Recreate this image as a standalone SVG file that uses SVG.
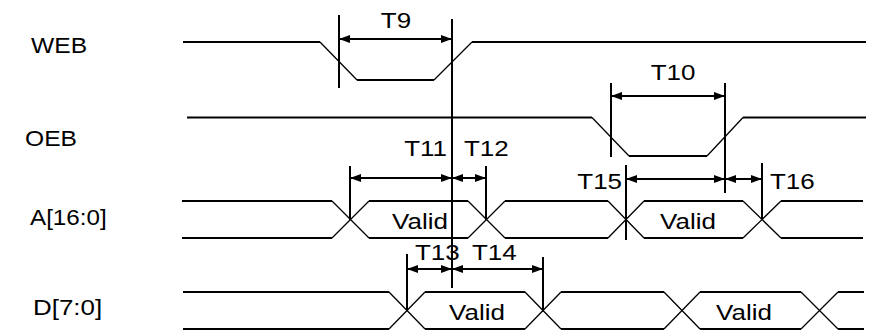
<svg xmlns="http://www.w3.org/2000/svg" width="881" height="332" viewBox="0 0 881 332">
<defs>
<marker id="ah" markerWidth="11" markerHeight="8" refX="11" refY="4" orient="auto-start-reverse" markerUnits="userSpaceOnUse">
<path d="M0,0 L11,4 L0,8 z" fill="#000"/>
</marker>
<style>
.sig{fill:none;stroke:#000;stroke-width:2;stroke-linejoin:miter}
.edge{fill:none;stroke:#000;stroke-width:1.3}
.mk{stroke:#000;stroke-width:2}
.arr{stroke:#000;stroke-width:2;marker-start:url(#ah);marker-end:url(#ah)}
text{font-family:"Liberation Sans",Arial,sans-serif;font-size:22px;fill:#000}
.m{text-anchor:middle}
.e{text-anchor:end}
</style>
</defs>
<rect width="881" height="332" fill="#fff"/>

<g id="web">
<text transform="translate(31,53) scale(1.12,1)">WEB</text>
<path class="sig" d="M183,42 H320 M357,80 H434 M472,42 H866"/>
<path class="edge" d="M320,42 L357,80 M434,80 L472,42"/>
</g>

<g id="oeb">
<text transform="translate(25,146) scale(1.12,1)">OEB</text>
<path class="sig" d="M187,117.5 H592 M629,156 H707 M743,117.5 H866"/>
<path class="edge" d="M592,117.5 L629,156 M707,156 L743,117.5"/>
</g>

<g id="addr">
<text transform="translate(30,225) scale(1.1,1)">A[16:0]</text>
<path class="sig" d="M182,201 H332 M369,201 H468 M505,201 H608 M644,201 H743 M781,201 H863 M182,238 H332 M369,238 H468 M505,238 H608 M644,238 H743 M781,238 H863"/>
<path class="edge" d="M332,201 L369,238 M332,238 L369,201 M468,201 L505,238 M468,238 L505,201 M608,201 L644,238 M608,238 L644,201 M743,201 L781,238 M743,238 L781,201"/>
<text class="m" transform="translate(420,229) scale(1.18,1)">Valid</text>
<text class="m" transform="translate(688,229) scale(1.18,1)">Valid</text>
</g>

<g id="data">
<text transform="translate(33,315) scale(1.18,1)">D[7:0]</text>
<path class="sig" d="M183,292 H389 M425,292 H525 M561,292 H664 M700,292 H801 M838,292 H864 M183,329 H389 M425,329 H525 M561,329 H664 M700,329 H801 M838,329 H864"/>
<path class="edge" d="M389,292 L425,329 M389,329 L425,292 M525,292 L561,329 M525,329 L561,292 M664,292 L700,329 M664,329 L700,292 M801,292 L838,329 M801,329 L838,292"/>
<text class="m" transform="translate(477,320) scale(1.18,1)">Valid</text>
<text class="m" transform="translate(744,320) scale(1.18,1)">Valid</text>
</g>

<g id="connectors">
<path class="mk" d="M339,15 V88 M452,19 V288 M611,83 V157 M725,83 V193 M350,166 V220 M486,166 V220 M626,165 V240 M762,163 V219 M407,254 V310 M543,257 V312"/>
<line class="arr" x1="339" y1="39" x2="452" y2="39"/>
<line class="arr" x1="611" y1="96" x2="725" y2="96"/>
<line class="arr" x1="350" y1="178" x2="452" y2="178"/>
<line class="arr" x1="452" y1="178" x2="486" y2="178"/>
<line class="arr" x1="626" y1="179" x2="725" y2="179"/>
<line class="arr" x1="725" y1="179" x2="762" y2="179"/>
<line class="arr" x1="407" y1="269" x2="452" y2="269"/>
<line class="arr" x1="452" y1="269" x2="543" y2="269"/>
</g>

<g id="timing-labels">
<text class="m" transform="translate(396,28) scale(1.18,1)">T9</text>
<text class="m" transform="translate(673,80) scale(1.18,1)">T10</text>
<text class="e" transform="translate(447,156) scale(1.18,1)">T11</text>
<text transform="translate(464,156) scale(1.18,1)">T12</text>
<text transform="translate(415,260) scale(1.18,1)">T13</text>
<text transform="translate(472,260) scale(1.18,1)">T14</text>
<text class="e" transform="translate(622,189) scale(1.18,1)">T15</text>
<text transform="translate(770,189) scale(1.18,1)">T16</text>
</g>
</svg>
